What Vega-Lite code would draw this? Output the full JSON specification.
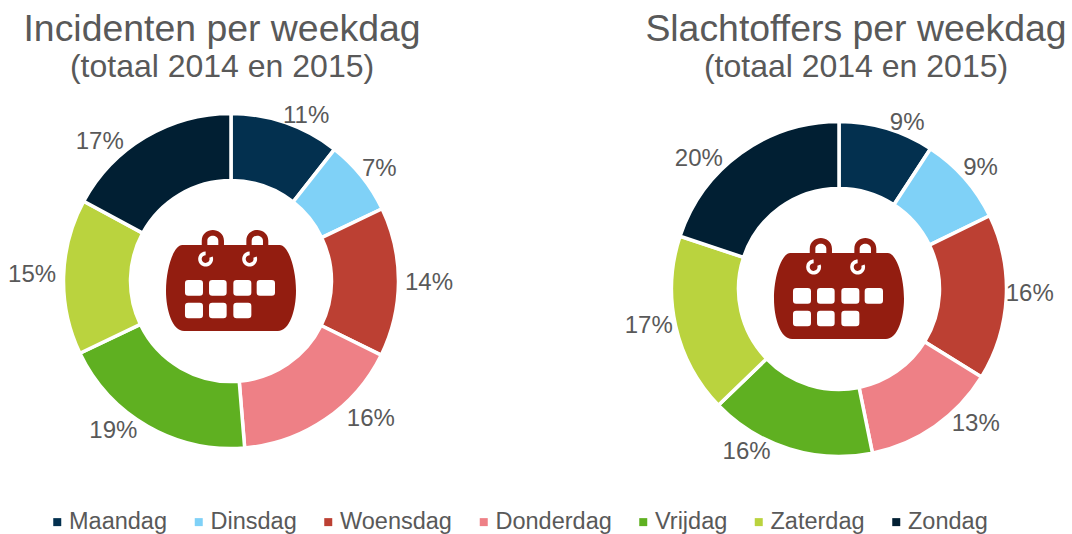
{
"$schema":"https://vega.github.io/schema/vega-lite/v6.json",
"padding":{"top":10,"left":0,"right":0,"bottom":0},
"background":"white",
"datasets":{
"incidenten":[{"dag":"Maandag","volgorde":1,"aandeel":0.106},{"dag":"Dinsdag","volgorde":2,"aandeel":0.073},{"dag":"Woensdag","volgorde":3,"aandeel":0.144},{"dag":"Donderdag","volgorde":4,"aandeel":0.164},{"dag":"Vrijdag","volgorde":5,"aandeel":0.192},{"dag":"Zaterdag","volgorde":6,"aandeel":0.150},{"dag":"Zondag","volgorde":7,"aandeel":0.171}],
"slachtoffers":[{"dag":"Maandag","volgorde":1,"aandeel":0.092},{"dag":"Dinsdag","volgorde":2,"aandeel":0.086},{"dag":"Woensdag","volgorde":3,"aandeel":0.160},{"dag":"Donderdag","volgorde":4,"aandeel":0.130},{"dag":"Vrijdag","volgorde":5,"aandeel":0.160},{"dag":"Zaterdag","volgorde":6,"aandeel":0.173},{"dag":"Zondag","volgorde":7,"aandeel":0.199}],
"icoon":[{"icoon":"kalender"}]
},
"config":{"view":{"stroke":null},"font":"Liberation Sans"},
"spacing":144,
"resolve":{"scale":{"color":"shared"}},
"hconcat":[
{"width":462,"height":392,
"title":{"text":"Incidenten per weekdag","subtitle":"(totaal 2014 en 2015)","font":"Liberation Sans","subtitleFont":"Liberation Sans","fontSize":37.4,"subtitleFontSize":32,"fontWeight":"normal","subtitleFontWeight":"normal","color":"#595959","subtitleColor":"#595959","anchor":"middle","dx":-9,"offset":2,"subtitlePadding":4},
"data":{"name":"incidenten"},
"layer":[
{"mark":{"type":"arc","outerRadius":167.5,"innerRadius":100.5,"stroke":"white","strokeWidth":3.5},
"encoding":{"theta":{"field":"aandeel","type":"quantitative","stack":true},"order":{"field":"volgorde"},
"color":{"field":"dag","type":"nominal","sort":["Maandag","Dinsdag","Woensdag","Donderdag","Vrijdag","Zaterdag","Zondag"],"scale":{"domain":["Maandag","Dinsdag","Woensdag","Donderdag","Vrijdag","Zaterdag","Zondag"],"range":["#03304F","#7FD1F7","#BC4033","#EE8086","#5FB021","#BAD33E","#011F33"]},
"legend":{"title":null,"orient":"none","legendX":45.5,"legendY":425,"direction":"horizontal","columns":7,"symbolType":"square","symbolSize":64,"symbolStrokeWidth":0,"labelFont":"Liberation Sans","labelFontSize":23.5,"labelColor":"#595959","labelOffset":0,"columnPadding":19.5,"labelLimit":200}}}},
{"mark":{"type":"text","font":"Liberation Sans","fontSize":24,"color":"#595959","radius":190,
"dx":{"expr":"{Maandag:13,Dinsdag:0,Woensdag:8,Donderdag:33,Vrijdag:-23,Zaterdag:-9,Zondag:-34}[datum.dag]"},
"dy":{"expr":"{Maandag:15,Dinsdag:7,Woensdag:1,Donderdag:-19,Vrijdag:-15,Zaterdag:-1,Zondag:24}[datum.dag]"}},
"encoding":{"theta":{"field":"aandeel","type":"quantitative","stack":true},"order":{"field":"volgorde"},"text":{"field":"aandeel","type":"quantitative","format":".0%"}}},
{"data":{"name":"icoon"},"mark":{"type":"point","filled":true,"opacity":1,"size":16900,"color":"#931D10","shape":"M -0.75 -0.554 L 0.75 -0.554 C 0.88 -0.554 1 -0.2 1 0.15 C 1 0.45 0.9 0.77 0.72 0.77 L -0.72 0.77 C -0.9 0.77 -1 0.45 -1 0.15 C -1 -0.2 -0.88 -0.554 -0.75 -0.554 Z M -0.45 -0.54 L -0.45 -0.62 C -0.45 -0.73 -0.36 -0.785 -0.28 -0.785 C -0.2 -0.785 -0.108 -0.73 -0.108 -0.62 L -0.108 -0.54 L -0.195 -0.54 L -0.195 -0.62 C -0.195 -0.67 -0.24 -0.697 -0.28 -0.697 C -0.32 -0.697 -0.364 -0.67 -0.364 -0.62 L -0.364 -0.54 Z M 0.236 -0.54 L 0.236 -0.62 C 0.236 -0.73 0.325 -0.785 0.405 -0.785 C 0.485 -0.785 0.574 -0.73 0.574 -0.62 L 0.574 -0.54 L 0.492 -0.54 L 0.492 -0.62 C 0.492 -0.67 0.445 -0.697 0.405 -0.697 C 0.365 -0.697 0.318 -0.67 0.318 -0.62 L 0.318 -0.54 Z"},"encoding":{}},
{"data":{"name":"icoon"},"mark":{"type":"point","filled":true,"opacity":1,"size":16900,"color":"white","shape":"M -0.282 -0.377 A 0.115 0.115 0 1 1 -0.39 -0.453 L -0.39 -0.398 A 0.06 0.06 0 1 0 -0.334 -0.359 Z M 0.395 -0.377 A 0.115 0.115 0 1 1 0.287 -0.453 L 0.287 -0.398 A 0.06 0.06 0 1 0 0.343 -0.359 Z M -0.658 -0.015 H -0.481 Q -0.431 -0.015 -0.431 0.035 V 0.176 Q -0.431 0.226 -0.481 0.226 H -0.658 Q -0.708 0.226 -0.708 0.176 V 0.035 Q -0.708 -0.015 -0.658 -0.015 Z M -0.288 -0.015 H -0.117 Q -0.067 -0.015 -0.067 0.035 V 0.176 Q -0.067 0.226 -0.117 0.226 H -0.288 Q -0.338 0.226 -0.338 0.176 V 0.035 Q -0.338 -0.015 -0.288 -0.015 Z M 0.086 -0.015 H 0.263 Q 0.313 -0.015 0.313 0.035 V 0.176 Q 0.313 0.226 0.263 0.226 H 0.086 Q 0.036 0.226 0.036 0.176 V 0.035 Q 0.036 -0.015 0.086 -0.015 Z M 0.445 -0.015 H 0.627 Q 0.677 -0.015 0.677 0.035 V 0.176 Q 0.677 0.226 0.627 0.226 H 0.445 Q 0.395 0.226 0.395 0.176 V 0.035 Q 0.395 -0.015 0.445 -0.015 Z M -0.658 0.333 H -0.481 Q -0.431 0.333 -0.431 0.383 V 0.524 Q -0.431 0.574 -0.481 0.574 H -0.658 Q -0.708 0.574 -0.708 0.524 V 0.383 Q -0.708 0.333 -0.658 0.333 Z M -0.288 0.333 H -0.117 Q -0.067 0.333 -0.067 0.383 V 0.524 Q -0.067 0.574 -0.117 0.574 H -0.288 Q -0.338 0.574 -0.338 0.524 V 0.383 Q -0.338 0.333 -0.288 0.333 Z M 0.086 0.333 H 0.263 Q 0.313 0.333 0.313 0.383 V 0.524 Q 0.313 0.574 0.263 0.574 H 0.086 Q 0.036 0.574 0.036 0.524 V 0.383 Q 0.036 0.333 0.086 0.333 Z"},"encoding":{}}
]},
{"width":466,"height":408,
"title":{"text":"Slachtoffers per weekdag","subtitle":"(totaal 2014 en 2015)","font":"Liberation Sans","subtitleFont":"Liberation Sans","fontSize":37.4,"subtitleFontSize":32,"fontWeight":"normal","subtitleFontWeight":"normal","color":"#595959","subtitleColor":"#595959","anchor":"middle","dx":17,"offset":2,"subtitlePadding":4},
"data":{"name":"slachtoffers"},
"layer":[
{"mark":{"type":"arc","outerRadius":167.5,"innerRadius":100.5,"stroke":"white","strokeWidth":3.5},
"encoding":{"theta":{"field":"aandeel","type":"quantitative","stack":true},"order":{"field":"volgorde"},
"color":{"field":"dag","type":"nominal","sort":["Maandag","Dinsdag","Woensdag","Donderdag","Vrijdag","Zaterdag","Zondag"]}}},
{"mark":{"type":"text","font":"Liberation Sans","fontSize":24,"color":"#595959","radius":190,
"dx":{"expr":"{Maandag:14,Dinsdag:-1,Woensdag:1,Donderdag:28,Vrijdag:-36,Zaterdag:-5,Zondag:-29}[datum.dag]"},
"dy":{"expr":"{Maandag:16,Dinsdag:5,Woensdag:-5,Donderdag:-21,Vrijdag:-18,Zaterdag:-5,Zondag:24}[datum.dag]"}},
"encoding":{"theta":{"field":"aandeel","type":"quantitative","stack":true},"order":{"field":"volgorde"},"text":{"field":"aandeel","type":"quantitative","format":".0%"}}},
{"data":{"name":"icoon"},"mark":{"type":"point","filled":true,"opacity":1,"size":16900,"color":"#931D10","shape":"M -0.75 -0.554 L 0.75 -0.554 C 0.88 -0.554 1 -0.2 1 0.15 C 1 0.45 0.9 0.77 0.72 0.77 L -0.72 0.77 C -0.9 0.77 -1 0.45 -1 0.15 C -1 -0.2 -0.88 -0.554 -0.75 -0.554 Z M -0.45 -0.54 L -0.45 -0.62 C -0.45 -0.73 -0.36 -0.785 -0.28 -0.785 C -0.2 -0.785 -0.108 -0.73 -0.108 -0.62 L -0.108 -0.54 L -0.195 -0.54 L -0.195 -0.62 C -0.195 -0.67 -0.24 -0.697 -0.28 -0.697 C -0.32 -0.697 -0.364 -0.67 -0.364 -0.62 L -0.364 -0.54 Z M 0.236 -0.54 L 0.236 -0.62 C 0.236 -0.73 0.325 -0.785 0.405 -0.785 C 0.485 -0.785 0.574 -0.73 0.574 -0.62 L 0.574 -0.54 L 0.492 -0.54 L 0.492 -0.62 C 0.492 -0.67 0.445 -0.697 0.405 -0.697 C 0.365 -0.697 0.318 -0.67 0.318 -0.62 L 0.318 -0.54 Z"},"encoding":{}},
{"data":{"name":"icoon"},"mark":{"type":"point","filled":true,"opacity":1,"size":16900,"color":"white","shape":"M -0.282 -0.377 A 0.115 0.115 0 1 1 -0.39 -0.453 L -0.39 -0.398 A 0.06 0.06 0 1 0 -0.334 -0.359 Z M 0.395 -0.377 A 0.115 0.115 0 1 1 0.287 -0.453 L 0.287 -0.398 A 0.06 0.06 0 1 0 0.343 -0.359 Z M -0.658 -0.015 H -0.481 Q -0.431 -0.015 -0.431 0.035 V 0.176 Q -0.431 0.226 -0.481 0.226 H -0.658 Q -0.708 0.226 -0.708 0.176 V 0.035 Q -0.708 -0.015 -0.658 -0.015 Z M -0.288 -0.015 H -0.117 Q -0.067 -0.015 -0.067 0.035 V 0.176 Q -0.067 0.226 -0.117 0.226 H -0.288 Q -0.338 0.226 -0.338 0.176 V 0.035 Q -0.338 -0.015 -0.288 -0.015 Z M 0.086 -0.015 H 0.263 Q 0.313 -0.015 0.313 0.035 V 0.176 Q 0.313 0.226 0.263 0.226 H 0.086 Q 0.036 0.226 0.036 0.176 V 0.035 Q 0.036 -0.015 0.086 -0.015 Z M 0.445 -0.015 H 0.627 Q 0.677 -0.015 0.677 0.035 V 0.176 Q 0.677 0.226 0.627 0.226 H 0.445 Q 0.395 0.226 0.395 0.176 V 0.035 Q 0.395 -0.015 0.445 -0.015 Z M -0.658 0.333 H -0.481 Q -0.431 0.333 -0.431 0.383 V 0.524 Q -0.431 0.574 -0.481 0.574 H -0.658 Q -0.708 0.574 -0.708 0.524 V 0.383 Q -0.708 0.333 -0.658 0.333 Z M -0.288 0.333 H -0.117 Q -0.067 0.333 -0.067 0.383 V 0.524 Q -0.067 0.574 -0.117 0.574 H -0.288 Q -0.338 0.574 -0.338 0.524 V 0.383 Q -0.338 0.333 -0.288 0.333 Z M 0.086 0.333 H 0.263 Q 0.313 0.333 0.313 0.383 V 0.524 Q 0.313 0.574 0.263 0.574 H 0.086 Q 0.036 0.574 0.036 0.524 V 0.383 Q 0.036 0.333 0.086 0.333 Z"},"encoding":{}}
]}
]
}
